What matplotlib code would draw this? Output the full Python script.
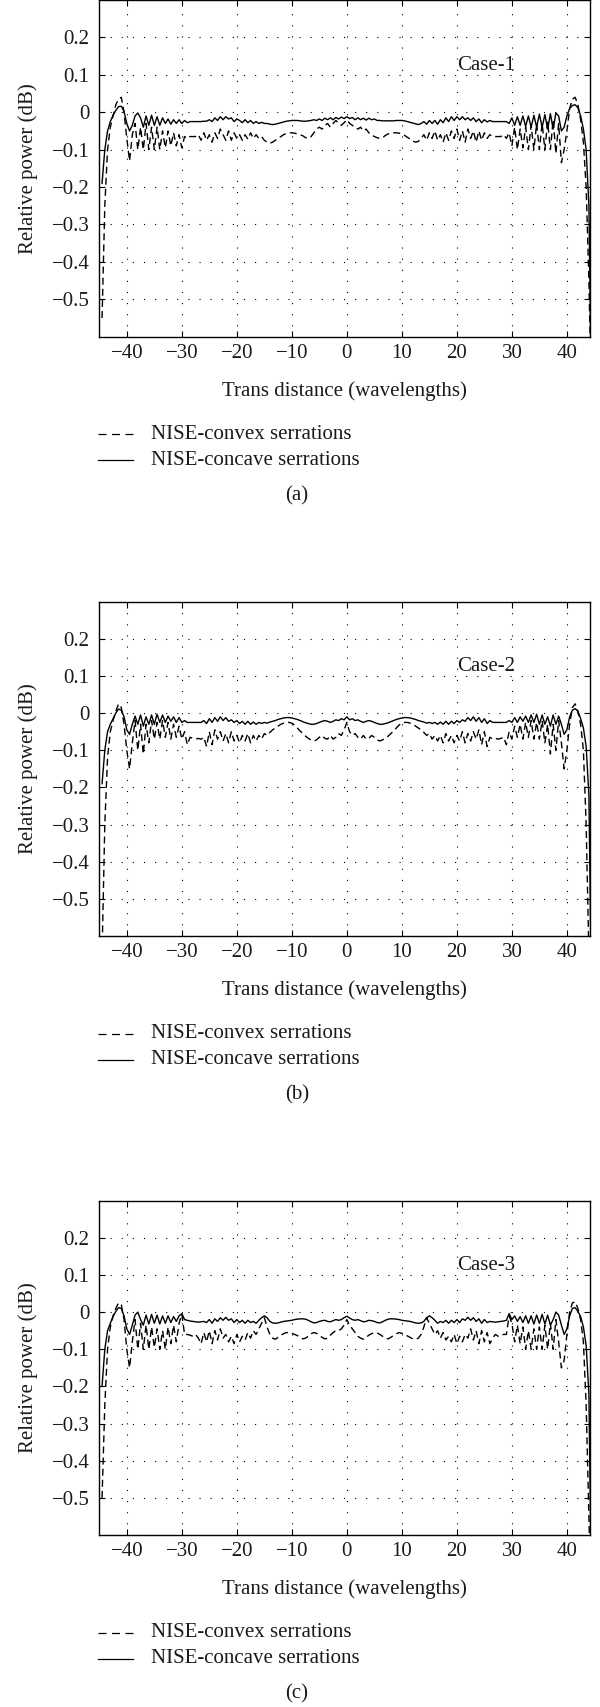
import numpy as np
import matplotlib.pyplot as plt
from matplotlib.lines import Line2D

plt.rcParams["font.family"] = ["Liberation Serif", "DejaVu Serif"]
plt.rcParams["font.size"] = 15

# sample positions along the trans distance (wavelengths), 0.5 step
trans = np.arange(-44.5, 44.51, 0.5)

# Case-1
convex_1 = [
    -0.55, -0.25, -0.10, -0.04, -0.01, 0.02, 0.035, 0.04, 0.0, -0.07,
    -0.13, -0.06, -0.03, -0.10, -0.04, -0.10, -0.03, -0.10, -0.04, -0.10,
    -0.04, -0.10, -0.05, -0.095, -0.05, -0.09, -0.055, -0.09, -0.06, -0.095,
    -0.065, -0.07, -0.065, -0.065, -0.065, -0.06, -0.075, -0.055, -0.075, -0.06,
    -0.08, -0.055, -0.07, -0.045, -0.06, -0.075, -0.05, -0.075, -0.055, -0.07,
    -0.06, -0.075, -0.06, -0.072, -0.055, -0.07, -0.06, -0.07, -0.065, -0.075,
    -0.08, -0.083, -0.08, -0.075, -0.07, -0.065, -0.06, -0.057, -0.055, -0.055,
    -0.056, -0.058, -0.06, -0.063, -0.068, -0.07, -0.065, -0.055, -0.045, -0.04,
    -0.045, -0.035, -0.03, -0.04, -0.03, -0.022, -0.03, -0.035, -0.028, -0.02,
    -0.03, -0.035, -0.04, -0.045, -0.04, -0.05, -0.045, -0.055, -0.06, -0.065,
    -0.068, -0.07, -0.068, -0.062, -0.058, -0.056, -0.055, -0.055, -0.056, -0.058,
    -0.062, -0.067, -0.072, -0.077, -0.08, -0.078, -0.07, -0.06, -0.075, -0.055,
    -0.07, -0.05, -0.075, -0.06, -0.08, -0.055, -0.075, -0.05, -0.07, -0.045,
    -0.075, -0.05, -0.08, -0.045, -0.07, -0.05, -0.08, -0.05, -0.075, -0.055,
    -0.07, -0.06, -0.065, -0.065, -0.065, -0.065, -0.06, -0.07, -0.055, -0.09,
    -0.04, -0.10, -0.045, -0.095, -0.04, -0.10, -0.035, -0.10, -0.03, -0.10,
    -0.03, -0.10, -0.025, -0.10, -0.02, -0.11, -0.03, -0.135, -0.10, -0.05,
    0.01, 0.035, 0.04, 0.02, -0.02, -0.08, -0.20, -0.45, -0.80,
]
concave_1 = [
    -0.19, -0.10, -0.05, -0.025, -0.008, 0.005, 0.015, 0.016, 0.002, -0.03,
    -0.05, -0.035, -0.01, -0.002, -0.015, -0.04, -0.01, -0.035, -0.008, -0.035,
    -0.012, -0.035, -0.015, -0.03, -0.018, -0.032, -0.02, -0.03, -0.02, -0.03,
    -0.022, -0.028, -0.025, -0.025, -0.025, -0.025, -0.025, -0.024, -0.024, -0.02,
    -0.025, -0.015, -0.022, -0.012, -0.02, -0.012, -0.018, -0.015, -0.025, -0.018,
    -0.022, -0.028, -0.02, -0.028, -0.022, -0.03, -0.025, -0.03, -0.027, -0.03,
    -0.03, -0.032, -0.033, -0.032, -0.03, -0.028, -0.026, -0.024, -0.023, -0.022,
    -0.022, -0.022, -0.023, -0.024, -0.024, -0.023, -0.022, -0.02, -0.022, -0.018,
    -0.022, -0.016, -0.02, -0.015, -0.02, -0.014, -0.018, -0.013, -0.017, -0.012,
    -0.017, -0.014, -0.02, -0.015, -0.02, -0.016, -0.021, -0.016, -0.02, -0.018,
    -0.022, -0.022, -0.023, -0.023, -0.023, -0.023, -0.023, -0.022, -0.022, -0.022,
    -0.023, -0.025, -0.027, -0.029, -0.031, -0.033, -0.03, -0.025, -0.032, -0.022,
    -0.03, -0.022, -0.032, -0.02, -0.028, -0.015, -0.025, -0.012, -0.022, -0.012,
    -0.02, -0.012, -0.02, -0.015, -0.022, -0.015, -0.025, -0.018, -0.028, -0.02,
    -0.026, -0.022, -0.025, -0.025, -0.025, -0.025, -0.025, -0.025, -0.03, -0.015,
    -0.035, -0.012, -0.035, -0.01, -0.038, -0.01, -0.04, -0.008, -0.04, -0.005,
    -0.04, -0.006, -0.045, -0.004, -0.045, -0.002, -0.01, -0.05, -0.04, -0.01,
    0.01, 0.018, 0.02, 0.012, -0.01, -0.045, -0.10, -0.25, -0.80,
]

# Case-2
convex_2 = [
    -0.65, -0.30, -0.12, -0.05, -0.02, 0.005, 0.025, 0.015, -0.03, -0.10,
    -0.15, -0.08, -0.02, -0.10, -0.03, -0.11, -0.03, -0.08, -0.02, -0.07,
    -0.025, -0.07, -0.02, -0.065, -0.025, -0.07, -0.03, -0.065, -0.035, -0.07,
    -0.05, -0.085, -0.065, -0.068, -0.07, -0.068, -0.07, -0.065, -0.09, -0.05,
    -0.085, -0.045, -0.07, -0.05, -0.075, -0.055, -0.08, -0.05, -0.075, -0.06,
    -0.08, -0.06, -0.075, -0.055, -0.08, -0.06, -0.075, -0.06, -0.07, -0.055,
    -0.06, -0.052, -0.045, -0.04, -0.035, -0.03, -0.027, -0.025, -0.025, -0.027,
    -0.032, -0.04, -0.048, -0.055, -0.062, -0.068, -0.072, -0.075, -0.072, -0.065,
    -0.06, -0.068, -0.07, -0.06, -0.07, -0.065, -0.055, -0.06, -0.045, -0.025,
    -0.05, -0.06, -0.055, -0.065, -0.07, -0.06, -0.07, -0.068, -0.06, -0.065,
    -0.072, -0.075, -0.072, -0.068, -0.062, -0.055, -0.048, -0.04, -0.032, -0.027,
    -0.025, -0.025, -0.027, -0.03, -0.035, -0.04, -0.045, -0.052, -0.06, -0.055,
    -0.07, -0.06, -0.075, -0.06, -0.08, -0.055, -0.075, -0.06, -0.08, -0.06,
    -0.075, -0.05, -0.08, -0.055, -0.075, -0.05, -0.07, -0.045, -0.085, -0.05,
    -0.09, -0.065, -0.07, -0.068, -0.07, -0.068, -0.065, -0.085, -0.05, -0.07,
    -0.035, -0.065, -0.03, -0.07, -0.025, -0.065, -0.02, -0.07, -0.025, -0.07,
    -0.02, -0.08, -0.03, -0.11, -0.03, -0.10, -0.02, -0.08, -0.15, -0.10,
    -0.03, 0.015, 0.025, 0.005, -0.03, -0.10, -0.30, -0.65, -0.90,
]
concave_2 = [
    -0.19, -0.10, -0.05, -0.03, -0.015, 0.0, 0.011, 0.008, -0.01, -0.045,
    -0.057, -0.03, -0.008, -0.03, -0.005, -0.035, -0.01, -0.03, -0.005, -0.03,
    -0.003, -0.025, -0.005, -0.025, -0.008, -0.022, -0.01, -0.025, -0.012, -0.025,
    -0.02, -0.025, -0.025, -0.025, -0.025, -0.025, -0.025, -0.02, -0.028, -0.015,
    -0.025, -0.012, -0.022, -0.01, -0.02, -0.012, -0.022, -0.018, -0.025, -0.02,
    -0.028, -0.022, -0.03, -0.022, -0.03, -0.024, -0.03, -0.025, -0.028, -0.025,
    -0.027, -0.024, -0.022, -0.02, -0.017, -0.015, -0.013, -0.012, -0.012, -0.013,
    -0.015, -0.017, -0.02, -0.023, -0.026, -0.028, -0.03, -0.03, -0.028, -0.025,
    -0.022, -0.02, -0.022, -0.025, -0.022, -0.018, -0.02, -0.015, -0.018, -0.01,
    -0.018, -0.015, -0.02, -0.018, -0.022, -0.025, -0.022, -0.02, -0.022, -0.025,
    -0.028, -0.03, -0.03, -0.028, -0.026, -0.023, -0.02, -0.017, -0.015, -0.013,
    -0.012, -0.012, -0.013, -0.015, -0.017, -0.02, -0.022, -0.024, -0.027, -0.025,
    -0.028, -0.025, -0.03, -0.024, -0.03, -0.022, -0.03, -0.022, -0.028, -0.02,
    -0.025, -0.018, -0.022, -0.012, -0.02, -0.01, -0.022, -0.012, -0.025, -0.015,
    -0.028, -0.02, -0.025, -0.025, -0.025, -0.025, -0.025, -0.025, -0.02, -0.025,
    -0.012, -0.025, -0.01, -0.022, -0.008, -0.025, -0.005, -0.025, -0.003, -0.03,
    -0.005, -0.03, -0.01, -0.035, -0.005, -0.03, -0.008, -0.03, -0.057, -0.045,
    -0.01, 0.008, 0.012, 0.005, -0.015, -0.04, -0.09, -0.22, -0.80,
]

# Case-3
convex_3 = [
    -0.50, -0.25, -0.10, -0.04, -0.01, 0.01, 0.025, 0.02, -0.02, -0.10,
    -0.15, -0.08, -0.02, -0.10, -0.03, -0.10, -0.035, -0.10, -0.04, -0.095,
    -0.045, -0.10, -0.05, -0.10, -0.04, -0.085, -0.035, -0.08, -0.03, -0.005,
    -0.06, -0.06, -0.062, -0.065, -0.06, -0.07, -0.085, -0.055, -0.08, -0.05,
    -0.085, -0.05, -0.075, -0.045, -0.07, -0.06, -0.08, -0.065, -0.085, -0.06,
    -0.08, -0.065, -0.075, -0.055, -0.07, -0.05, -0.06, -0.045, -0.03, -0.015,
    -0.04, -0.06, -0.07, -0.073, -0.068, -0.062, -0.058, -0.055, -0.055, -0.057,
    -0.06, -0.063, -0.068, -0.072, -0.07, -0.065, -0.058, -0.055, -0.057, -0.062,
    -0.068, -0.072, -0.07, -0.062, -0.055, -0.05, -0.05, -0.045, -0.035, -0.02,
    -0.035, -0.045, -0.055, -0.065, -0.07, -0.073, -0.068, -0.062, -0.058, -0.055,
    -0.056, -0.06, -0.065, -0.07, -0.072, -0.068, -0.062, -0.058, -0.055, -0.057,
    -0.06, -0.064, -0.068, -0.072, -0.073, -0.07, -0.06, -0.04, -0.015, -0.03,
    -0.045, -0.06, -0.05, -0.07, -0.055, -0.075, -0.065, -0.08, -0.06, -0.085,
    -0.065, -0.08, -0.06, -0.07, -0.045, -0.075, -0.05, -0.085, -0.05, -0.08,
    -0.055, -0.085, -0.07, -0.06, -0.065, -0.062, -0.06, -0.06, -0.01, -0.03,
    -0.08, -0.035, -0.085, -0.04, -0.10, -0.05, -0.10, -0.045, -0.10, -0.04,
    -0.10, -0.035, -0.10, -0.03, -0.10, -0.02, -0.08, -0.15, -0.13, -0.06,
    0.0, 0.025, 0.028, 0.01, -0.02, -0.08, -0.25, -0.55, -0.90,
]
concave_3 = [
    -0.20, -0.10, -0.05, -0.03, -0.012, 0.002, 0.012, 0.01, -0.01, -0.045,
    -0.06, -0.035, -0.008, 0.0, -0.02, -0.035, -0.008, -0.032, -0.006, -0.03,
    -0.008, -0.032, -0.01, -0.03, -0.01, -0.028, -0.012, -0.025, -0.01, -0.004,
    -0.02, -0.022, -0.024, -0.025, -0.026, -0.027, -0.026, -0.025, -0.028, -0.02,
    -0.03, -0.018, -0.025, -0.015, -0.022, -0.014, -0.022, -0.018, -0.028, -0.02,
    -0.028, -0.022, -0.03, -0.022, -0.028, -0.025, -0.03, -0.022, -0.015, -0.01,
    -0.015, -0.025, -0.029, -0.03, -0.029, -0.027, -0.025, -0.024, -0.023, -0.022,
    -0.02, -0.019, -0.018, -0.018, -0.019, -0.022, -0.026, -0.029, -0.028, -0.025,
    -0.023, -0.022, -0.025, -0.026, -0.023, -0.02, -0.022, -0.02, -0.015, -0.011,
    -0.016, -0.02, -0.022, -0.02, -0.023, -0.026, -0.025, -0.022, -0.023, -0.025,
    -0.028, -0.029, -0.026, -0.022, -0.019, -0.018, -0.018, -0.019, -0.02, -0.022,
    -0.023, -0.024, -0.025, -0.027, -0.029, -0.03, -0.029, -0.025, -0.015, -0.01,
    -0.015, -0.022, -0.03, -0.025, -0.028, -0.022, -0.03, -0.022, -0.028, -0.02,
    -0.028, -0.018, -0.022, -0.014, -0.022, -0.015, -0.025, -0.018, -0.03, -0.02,
    -0.028, -0.025, -0.026, -0.027, -0.026, -0.025, -0.024, -0.022, -0.004, -0.02,
    -0.01, -0.025, -0.012, -0.028, -0.01, -0.03, -0.01, -0.032, -0.008, -0.03,
    -0.006, -0.032, -0.008, -0.035, -0.02, 0.0, -0.008, -0.035, -0.06, -0.045,
    -0.01, 0.01, 0.012, 0.002, -0.012, -0.04, -0.09, -0.22, -0.80,
]

convex = [convex_1, convex_2, convex_3]
concave = [concave_1, concave_2, concave_3]
cases = ["Case-1", "Case-2", "Case-3"]
captions = ["(a)", "(b)", "(c)"]
legend_labels = ["NISE-convex serrations", "NISE-concave serrations"]

xticks = [-40, -30, -20, -10, 0, 10, 20, 30, 40]
xtick_labels = ["\u221240", "\u221230", "\u221220", "\u221210", "0", "10", "20", "30", "40"]
yticks = [-0.5, -0.4, -0.3, -0.2, -0.1, 0, 0.1, 0.2]
ytick_labels = ["\u22120.5", "\u22120.4", "\u22120.3", "\u22120.2", "\u22120.1", "0", "0.1", "0.2"]

# figure in pixels
W, H = 600, 1707
fig = plt.figure(figsize=(W / 100, H / 100), dpi=100)

ax_left, ax_right = 99.3, 590.0
# (top, bottom) of each panel in pixels from the top of the figure
panel_rows = [(0.0, 336.7), (601.7, 936.0), (1200.7, 1535.0)]

txt_color = "#1a1a1a"
dash = (0, (5, 3))

for i, (top, bot) in enumerate(panel_rows):
    ax = fig.add_axes([ax_left / W, (H - bot) / H, (ax_right - ax_left) / W, (bot - top) / H])

    ax.plot(trans, convex[i], color="black", lw=1.0, ls=dash)
    ax.plot(trans, concave[i], color="black", lw=1.0)

    ax.set_xlim(-45, 44.2)
    ax.set_ylim(-0.6, 0.3)
    ax.set_xticks(xticks, xtick_labels)
    ax.set_yticks(yticks, ytick_labels)
    ax.tick_params(direction="in", length=4, width=0.8, top=True, right=True,
                   colors="black", labelcolor=txt_color)
    ax.tick_params(axis="x", pad=5)
    ax.tick_params(axis="y", pad=7)
    ax.grid(True, color="black", lw=0.8, ls=(0, (1, 9)))
    for sp in ax.spines.values():
        sp.set_linewidth(1.0)

    ax.text(20, 0.125, cases[i], ha="left", va="center", color=txt_color)

    ax.set_ylabel("Relative power (dB)", color=txt_color)
    ax.yaxis.set_label_coords(-0.125, 0.5)
    ax.set_xlabel("Trans distance (wavelengths)", color=txt_color, va="center")
    ax.xaxis.set_label_coords(0.5, -54.3 / (bot - top))

    # legend below the axes
    for j, y_off in enumerate([97.6, 123.6]):
        yf = (H - bot - y_off) / H
        fig.add_artist(Line2D([98 / W, 133 / W], [yf, yf], color="black", lw=0.9,
                              ls=(0, (6.4, 4.4)) if j == 0 else "-"))
        fig.text(151 / W, yf, legend_labels[j], ha="left", va="center", color=txt_color)

    fig.text(297 / W, (H - bot - 159) / H, captions[i], ha="center", va="center",
             color=txt_color)

fig.savefig("out.png", dpi=100)
